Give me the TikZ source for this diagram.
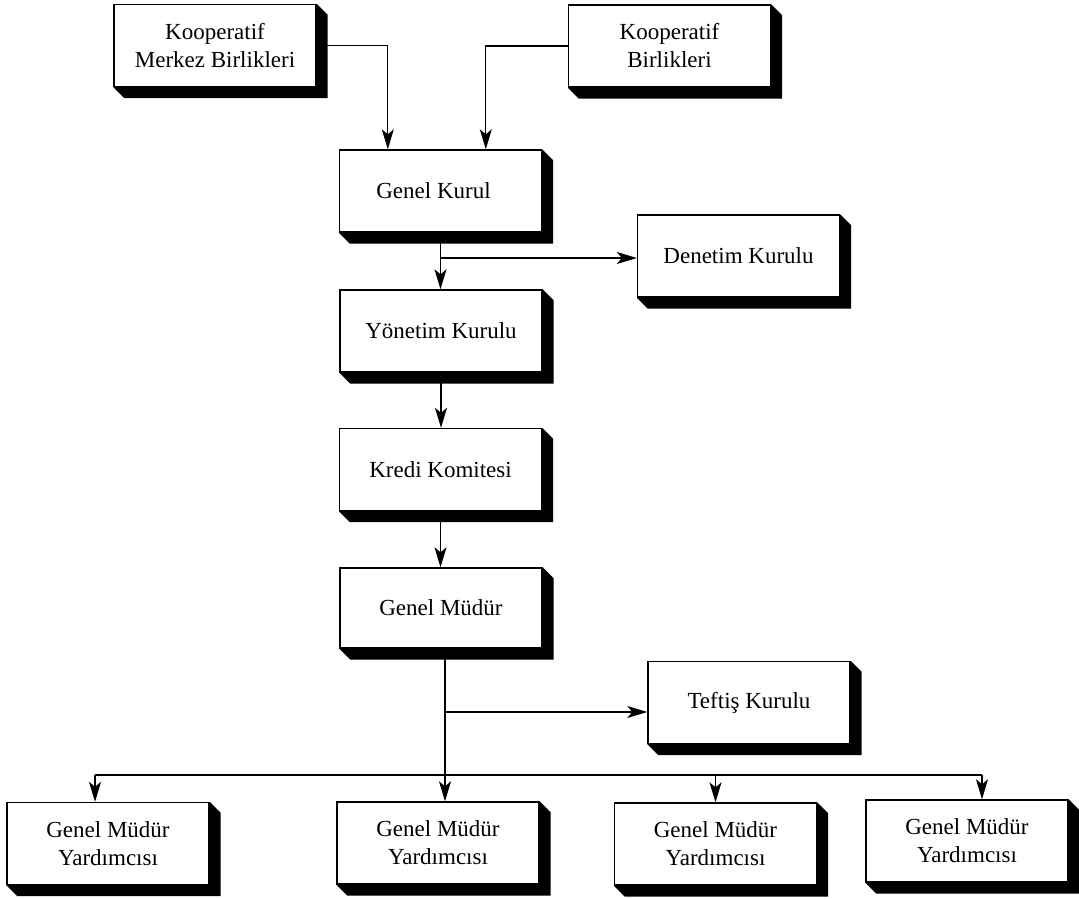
\documentclass[tikz,border=0pt]{standalone}
\usepackage{fontspec}
\setmainfont{Liberation Serif}
\usetikzlibrary{arrows.meta,calc}
\begin{document}
\begin{tikzpicture}[x=1pt,y=-1pt,
  box/.style={draw, line width=1.4pt, fill=white, minimum width=202pt, minimum height=82pt,
    inner sep=0pt, align=center, font=\fontsize{23}{28}\selectfont},
  conn/.style={line width=1.3pt},
  arr/.style={line width=1.3pt, -{Stealth[length=20pt,width=12pt,inset=5pt]}}]
\useasboundingbox (0,0) rectangle (1079,899);
% nodes
\node[box] (kmb) at (215,45.5) {Kooperatif\\Merkez Birlikleri};
\node[box] (kb) at (669.5,46) {Kooperatif\\Birlikleri};
\node[box] (gk) at (440.5,191) {Genel Kurul\hspace*{14pt}};
\node[box] (dk) at (738.5,256) {Denetim Kurulu};
\node[box] (yk) at (441,331) {Yönetim Kurulu};
\node[box] (kk) at (440.5,469.5) {Kredi Komitesi};
\node[box, minimum height=80pt] (gm) at (441,608) {Genel Müdür};
\node[box] (tk) at (749,702.5) {Teftiş Kurulu};
\node[box] (gmy1) at (108,843.5) {Genel Müdür\\Yardımcısı};
\node[box] (gmy2) at (438,843) {Genel Müdür\\Yardımcısı};
\node[box] (gmy3) at (715.5,844) {Genel Müdür\\Yardımcısı};
\node[box] (gmy4) at (967,841) {Genel Müdür\\Yardımcısı};
% shadows
\foreach \n in {kmb,kb,gk,dk,yk,kk,gm,tk,gmy1,gmy2,gmy3,gmy4}{
  \fill (\n.north east) -- ++(11,11) -- ($(\n.south east)+(11,11)$)
    -- ($(\n.south west)+(11,11)$) -- (\n.south west) -- (\n.south east) -- cycle;
}
% connectors
\coordinate (g1) at ($(gk.north west)+(49,0)$);
\coordinate (g2) at ($(gk.north west)+(147,0)$);
\draw[arr] (kmb.east) -| (g1);
\draw[arr] (kb.west) -| (g2);
\draw[arr] (gk.south) -- (gk.south |- yk.north);
\coordinate (b1) at (441,258);
\draw[arr] (b1) -- (b1 -| dk.west);
\draw[arr] (yk.south) -- (yk.south |- kk.north);
\draw[arr] (kk.south) -- (kk.south |- gm.north);
\coordinate (gmd) at ($(gm.south)+(4,0)$);
\draw[arr] (gmd) -- (gmd |- gmy2.north);
\coordinate (b2) at (445,712);
\draw[arr] (b2) -- (b2 -| tk.west);
\coordinate (bus) at (0,775);
\coordinate (a1) at ($(gmy1.north)+(-13,0)$);
\coordinate (a4) at ($(gmy4.north)+(15,0)$);
\draw[conn] (a1 |- bus) -- (a4 |- bus);
\draw[arr] (a1 |- bus) -- (a1);
\draw[arr] (gmy3.north |- bus) -- (gmy3.north);
\draw[arr] (a4 |- bus) -- (a4);
\end{tikzpicture}
\end{document}
